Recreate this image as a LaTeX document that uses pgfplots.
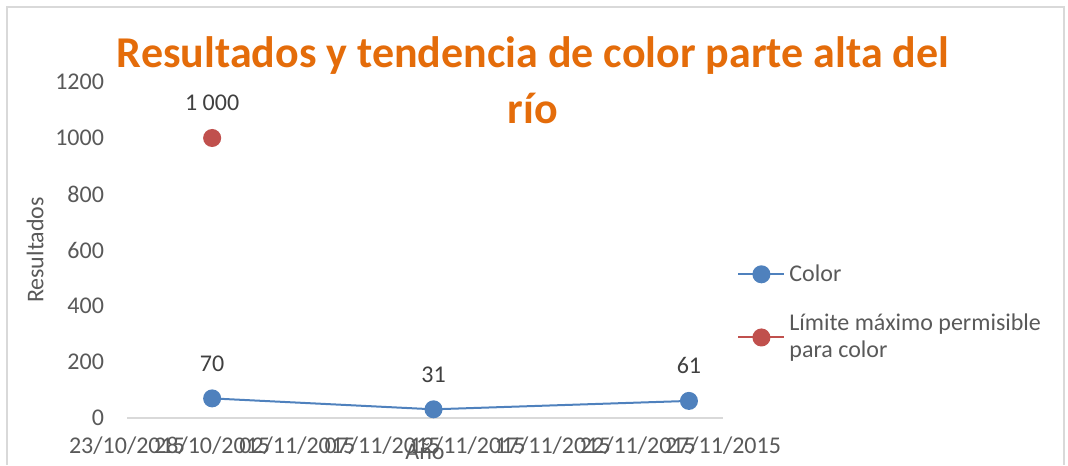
\documentclass[border=0pt]{standalone}
\usepackage{fontspec}
\setmainfont{Carlito}
\usepackage{pgfplots}
\pgfplotsset{compat=1.18}
\definecolor{cblue}{HTML}{4F81BD}
\definecolor{cred}{HTML}{C0504D}
\definecolor{ctitle}{HTML}{E46C0A}
\definecolor{ctext}{HTML}{595959}
\definecolor{clab}{HTML}{404040}
\definecolor{cframe}{HTML}{D9D9D9}
\begin{document}
\begin{tikzpicture}[x=0.5pt,y=0.5pt]
\useasboundingbox (0,0) rectangle (1068,465);
\draw[cframe, line width=1pt] (7,0) -- (7,458) -- (1064,458) -- (1064,0);
\node[ctitle, font=\fontsize{22}{28}\selectfont\bfseries, align=center] at (533,385) {Resultados y tendencia de color parte alta del\\río};
\begin{axis}[at={(63.5pt,23.5pt)}, anchor=south west, scale only axis,
  width=298pt, height=168pt,
  xmin=0, xmax=35, ymin=0, ymax=1200,
  axis x line*=bottom, axis y line*=left,
  x axis line style={-, draw=cframe, line width=1.2pt},
  y axis line style={draw=none},
  major tick length=0pt,
  xtick={0,5,...,35},
  xticklabels={23/10/2015,28/10/2015,02/11/2015,07/11/2015,12/11/2015,17/11/2015,22/11/2015,27/11/2015},
  ytick={0,200,...,1200},
  /pgf/number format/assume math mode=true,
  /pgf/number format/1000 sep={},
  tick label style={font=\fontsize{12}{14}\selectfont, text=ctext},
  xticklabel style={yshift=-6pt},
  yticklabel style={xshift=-8pt},
  xlabel={Año}, ylabel={Resultados},
  xlabel style={at={(axis description cs:0.5,-0.101)}, anchor=center, font=\fontsize{12}{14}\selectfont, text=ctext},
  ylabel style={at={(axis description cs:-0.154,0.5)}, anchor=center, rotate=0, font=\fontsize{12}{14}\selectfont, text=ctext},
  clip=false,
  legend style={at={(rel axis cs:1.0235,0.47)}, anchor=north west, draw=none, fill=none,
    font=\fontsize{12}{13.5}\selectfont, text=ctext, cells={align=left}, row sep=11pt, inner sep=0pt},
  legend cell align=left,
  legend image code/.code={\draw[mark repeat=2,mark phase=2] plot coordinates {(0pt,0pt)(11.5pt,0pt)(23pt,0pt)};},
  nodes near coords, point meta=explicit symbolic,
  nodes near coords style={anchor=center, yshift=17.5pt, font=\fontsize{12}{14}\selectfont, text=clab},
]
\addplot[cblue, line width=1pt, mark=*, mark size=4pt, mark options={fill=cblue, draw=cblue}]
  coordinates {(5,70)[70] (18,31)[31] (33,61)[61]};
\addlegendentry{Color}
\addplot[cred, line width=1pt, mark=*, mark size=4pt, mark options={fill=cred, draw=cred}]
  coordinates {(5,1000)[1 000]};
\addlegendentry{Límite máximo permisible\\para color}
\end{axis}
\end{tikzpicture}
\end{document}
